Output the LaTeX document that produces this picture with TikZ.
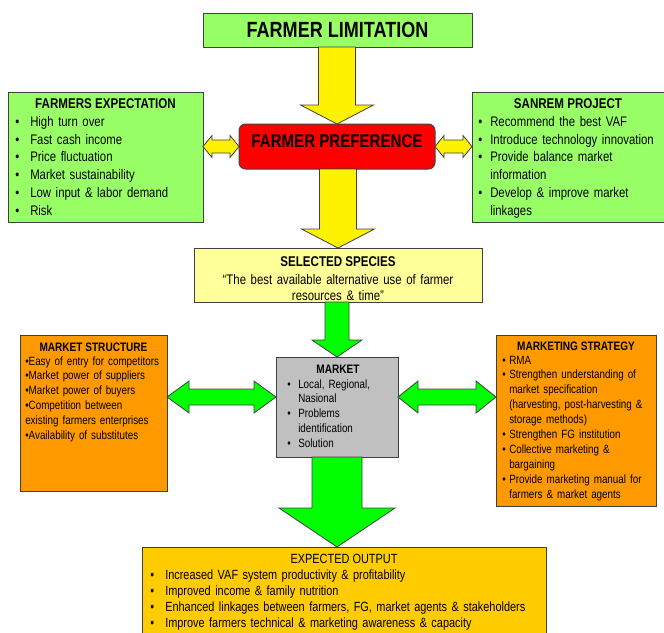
\documentclass[tikz,border=0pt]{standalone}
\usepackage{fontspec}
\setmainfont{Liberation Sans}[FakeStretch=0.82]
\usetikzlibrary{calc,fit}

\definecolor{lgreen}{HTML}{99FF66}
\definecolor{lyellow}{HTML}{FFFF99}
\definecolor{mgray}{HTML}{C0C0C0}
\definecolor{morange}{HTML}{FF9900}
\definecolor{mgold}{HTML}{FFCC00}

\newcommand\bul[1]{\makebox[#1][l]{\textbullet}}
% fat arrow pointing down: top node, tip, half shaft, half head, head length, style
\newcommand\fatdown[6]{%
  \draw[#6] ($(#2 |- #1)+(-#3,0)$) -- ($(#2)+(-#3,-#5)$) -- ($(#2)+(-#4,-#5)$) -- (#2)
    -- ($(#2)+(#4,-#5)$) -- ($(#2)+(#3,-#5)$) -- ($(#2 |- #1)+(#3,0)$) -- cycle;}
% fat double arrow: left tip, right tip, half shaft, half head, head length, style
\newcommand\fatboth[6]{%
  \draw[#6] (#1) -- ($(#1)+(#5,#4)$) -- ($(#1)+(#5,#3)$) -- ($(#2)+(-#5,#3)$) -- ($(#2)+(-#5,#4)$)
    -- (#2) -- ($(#2)+(-#5,-#4)$) -- ($(#2)+(-#5,-#3)$) -- ($(#1)+(#5,-#3)$) -- ($(#1)+(#5,-#4)$) -- cycle;}

\tikzset{
  box/.style={draw=black!75, line width=0.75pt, inner sep=0pt, outer sep=0pt},
  big/.style={font=\fontsize{16.5pt}{20pt}\selectfont\bfseries},
  pref/.style={font=\fontsize{13.8pt}{16pt}\selectfont\bfseries},
  mid/.style={font=\fontsize{10.4pt}{13.3pt}\selectfont},
  midb/.style={font=\fontsize{10.6pt}{13.3pt}\selectfont\bfseries},
  sml/.style={font=\fontsize{9pt}{11.2pt}\selectfont},
  smlb/.style={font=\fontsize{9.2pt}{11.2pt}\selectfont\bfseries},
  outp/.style={font=\fontsize{10pt}{12pt}\selectfont},
  head/.style={anchor=base, inner sep=0pt},
  list/.style={anchor=base west, align=left, inner sep=0pt, text width=420pt},
  yarrow/.style={draw=black!75, line width=0.6pt, fill=yellow},
  garrow/.style={draw=black!75, line width=0.6pt, fill=green}
}

\begin{document}
\begin{tikzpicture}[x=0.75pt, y=-0.75pt]
  \useasboundingbox (0,0) rectangle (664,632);

  % top row
  \node (L) [box, fill=lgreen, fit={(203,13) (472,47)}] {};
  \node (Lt) [big] at (L.center) {FARMER LIMITATION};
  \node (P) [box, fill=red, rounded corners=5pt, fit={(239,124) (435,169)}] {};
  \node (Pt) [pref, head] at (337,147) {FARMER PREFERENCE};

  \node (E) [box, fill=lgreen, fit={(8,92) (203,222)}] {};
  \node (Et) [midb, head] at (105.5,108) {FARMERS EXPECTATION};
  \node (El) [mid, list] at (15,126.5) {\bul{11.25pt}High turn over\\
    \bul{11.25pt}Fast cash income\\
    \bul{11.25pt}Price fluctuation\\
    \bul{11.25pt}Market sustainability\\
    \bul{11.25pt}Low input \& labor demand\\
    \bul{11.25pt}Risk};

  \node (R) [box, fill=lgreen, fit={(472,92) (670,222)}] {};
  \node (Rt) [midb, head] at (568,108) {SANREM PROJECT};
  \node (Rl) [mid, list] at (478,126.5) {\bul{9pt}Recommend the best VAF\\
    \bul{9pt}Introduce technology innovation\\
    \bul{9pt}Provide balance market\\
    \hspace*{9pt}information\\
    \bul{9pt}Develop \& improve market\\
    \hspace*{9pt}linkages};

  \node (S) [box, fill=lyellow, fit={(194,248) (482,302)}] {};
  \node (St) [midb, head] at (338,266) {SELECTED SPECIES};
  \node (Sl) [mid, head, align=center, text width=300pt] at (338,284)
    {“The best available alternative use of farmer\\[-0.6pt] resources \& time”};

  % market row
  \node (M) [box, fill=mgray, fit={(276,357) (398,457)}] {};
  \node (Mt) [smlb, head] at (338,373) {MARKET};
  \node (Ml) [sml, list] at (287,388) {\bul{8.25pt}Local, Regional,\\
    \hspace*{8.25pt}Nasional\\
    \bul{8.25pt}Problems\\
    \hspace*{8.25pt}identification\\
    \bul{8.25pt}Solution};

  \node (MS) [box, fill=morange, fit={(20,335) (167,491)}] {};
  \node (MSt) [smlb, head] at (93.5,351) {MARKET STRUCTURE};
  \node (MSl) [sml, list] at (25,365) {\textbullet Easy of entry for competitors\\
    \textbullet Market power of suppliers\\
    \textbullet Market power of buyers\\
    \textbullet Competition between\\
    existing farmers enterprises\\
    \textbullet Availability of substitutes};

  \node (MK) [box, fill=morange, fit={(496,335) (656,506)}] {};
  \node (MKt) [smlb, head] at (576,350) {MARKETING STRATEGY};
  \node (MKl) [sml, list] at (502,364) {\bul{5.25pt}RMA\\
    \bul{5.25pt}Strengthen understanding of\\
    \hspace*{5.25pt}market specification\\
    \hspace*{5.25pt}(harvesting, post-harvesting \&\\
    \hspace*{5.25pt}storage methods)\\
    \bul{5.25pt}Strengthen FG institution\\
    \bul{5.25pt}Collective marketing \&\\
    \hspace*{5.25pt}bargaining\\
    \bul{5.25pt}Provide marketing manual for\\
    \hspace*{5.25pt}farmers \& market agents};

  % output
  \node (O) [box, fill=mgold, fit={(142,547) (546,645)}] {};
  \node (Ot) [outp, head] at (344,563) {EXPECTED OUTPUT};
  \node (Ol) [outp, list] at (150,579) {\bul{11.25pt}Increased VAF system productivity \& profitability\\
    \bul{11.25pt}Improved income \& family nutrition\\
    \bul{11.25pt}Enhanced linkages between farmers, FG, market agents \& stakeholders\\
    \bul{11.25pt}Improve farmers technical \& marketing awareness \& capacity};

  % arrows
  \fatdown{L.south}{P.north}{18.5}{36.5}{19}{yarrow}
  \fatdown{P.south}{S.north}{18.5}{36.5}{19}{yarrow}
  \fatboth{E.east |- P.west}{P.west}{6.5}{11}{9}{yarrow}
  \fatboth{P.east}{R.west |- P.east}{6.5}{11}{9}{yarrow}
  \fatdown{S.south}{M.north}{12}{25}{17}{garrow}
  \coordinate (ml) at ($(M.west)+(0,-10)$);
  \coordinate (mr) at ($(M.east)+(0,-10)$);
  \fatboth{MS.east |- ml}{ml}{8}{16}{22}{garrow}
  \fatboth{mr}{MK.west |- mr}{8}{16}{20}{garrow}
  \fatdown{M.south}{M.south |- O.north}{25}{58}{39}{garrow}
\end{tikzpicture}
\end{document}
